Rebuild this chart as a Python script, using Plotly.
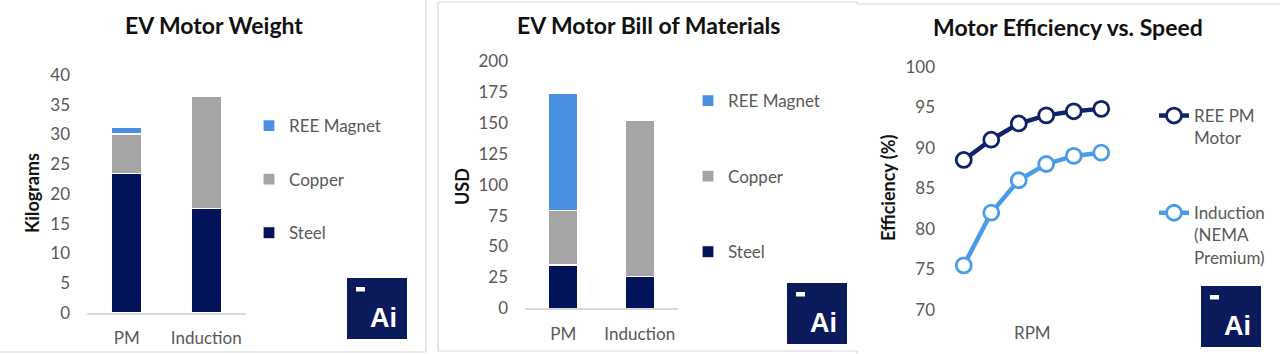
import plotly.graph_objects as go

W, H = 1280, 354

# ---------------- data ----------------
categories = ["PM", "Induction"]
weight_steel = [23.5, 17.5]
weight_copper = [6.6, 18.9]
weight_magnet = [1.1, 0]

bom_steel = [35, 26]
bom_copper = [44, 126]
bom_magnet = [95, 0]

speed_points = [1, 2, 3, 4, 5, 6]
eff_pm = [88.5, 91.0, 93.0, 94.0, 94.5, 94.8]
eff_induction = [75.5, 82.0, 86.0, 88.0, 89.0, 89.4]

weight_ticks = [0, 5, 10, 15, 20, 25, 30, 35, 40]
bom_ticks = [0, 25, 50, 75, 100, 125, 150, 175, 200]
eff_ticks = [70, 75, 80, 85, 90, 95, 100]

# ---------------- style ----------------
C_STEEL = "#02135A"
C_COPPER = "#A5A5A5"
C_MAGNET = "#4A90E2"
C_LINE_PM = "#10226A"
C_LINE_IND = "#4C9BE8"
C_LOGO = "#0B1A5B"
C_BORDER = "#D9D9D9"
FONT = "Lato"
TICK_C = "#595959"


def px(x):
    return x / W


def py(y):
    return 1 - y / H


fig = go.Figure()

# ---- panel 1: weight ----
for name, vals, col, rank in [("Steel", weight_steel, C_STEEL, 3),
                              ("Copper", weight_copper, C_COPPER, 2),
                              ("REE Magnet", weight_magnet, C_MAGNET, 1)]:
    fig.add_trace(go.Bar(x=categories, y=vals, name=name, marker_color=col,
                         marker_line=dict(color="white", width=1.2),
                         xaxis="x", yaxis="y", legend="legend",
                         legendgroup="w%d" % rank, legendrank=rank,
                         hoverinfo="y+name"))

# ---- panel 2: BOM ----
for name, vals, col, rank in [("Steel", bom_steel, C_STEEL, 3),
                              ("Copper", bom_copper, C_COPPER, 2),
                              ("REE Magnet", bom_magnet, C_MAGNET, 1)]:
    fig.add_trace(go.Bar(x=categories, y=vals, name=name, marker_color=col,
                         marker_line=dict(color="white", width=1.2),
                         xaxis="x2", yaxis="y2", legend="legend2",
                         legendgroup="b%d" % rank, legendrank=rank,
                         hoverinfo="y+name"))

# ---- panel 3: efficiency ----
fig.add_trace(go.Scatter(x=speed_points, y=eff_pm, name="REE PM<br>Motor",
                         mode="lines+markers",
                         line=dict(color=C_LINE_PM, width=4.5),
                         marker=dict(size=15, color="white",
                                     line=dict(color=C_LINE_PM, width=2.8)),
                         xaxis="x3", yaxis="y3", legend="legend3",
                         legendgroup="e1", legendrank=1))
fig.add_trace(go.Scatter(x=speed_points, y=eff_induction,
                         name="Induction<br>(NEMA<br>Premium)",
                         mode="lines+markers",
                         line=dict(color=C_LINE_IND, width=4.5),
                         marker=dict(size=15, color="white",
                                     line=dict(color=C_LINE_IND, width=2.8)),
                         xaxis="x3", yaxis="y3", legend="legend3",
                         legendgroup="e2", legendrank=2))

tickfont = dict(family=FONT, size=17, color=TICK_C)

common_x = dict(showgrid=False, zeroline=False, ticks="", automargin=False,
                tickfont=tickfont)
common_y = dict(showgrid=False, zeroline=False, showline=False, ticks="",
                automargin=False, tickfont=tickfont)

fig.update_layout(
    template="none",
    width=W, height=H, autosize=False,
    margin=dict(l=0, r=0, t=0, b=0, pad=0, autoexpand=False),
    paper_bgcolor="white", plot_bgcolor="white",
    barmode="stack", bargap=0.62,
    font=dict(family=FONT, color="#404040"),
    xaxis=dict(domain=[px(87), px(246)], anchor="y", type="category",
               showline=True, linecolor=C_BORDER, linewidth=1.5,
               ticklabelstandoff=9, **common_x),
    yaxis=dict(domain=[py(313), py(75)], anchor="x", range=[0, 40],
               tickvals=weight_ticks, ticklabelstandoff=16, **common_y),
    xaxis2=dict(domain=[px(525), px(678)], anchor="y2", type="category",
                showline=True, linecolor=C_BORDER, linewidth=1.5,
                ticklabelstandoff=10, **common_x),
    yaxis2=dict(domain=[py(308.3), py(61)], anchor="x2", range=[0, 200],
                tickvals=bom_ticks, ticklabelstandoff=16, **common_y),
    xaxis3=dict(domain=[px(950), px(1115)], anchor="y3",
                range=[0.5, 6.5], showticklabels=False, showline=False,
                **common_x),
    yaxis3=dict(domain=[py(310), py(66.7)], anchor="x3", range=[70, 100],
                tickvals=eff_ticks, ticklabelstandoff=14, **common_y),
    legend=dict(x=px(249), y=py(108), xanchor="left", yanchor="top",
                font=dict(family=FONT, size=17, color=TICK_C),
                traceorder="grouped", tracegroupgap=28.5,
                bgcolor="rgba(0,0,0,0)", borderwidth=0),
    legend2=dict(x=px(688), y=py(83), xanchor="left", yanchor="top",
                 font=dict(family=FONT, size=17, color=TICK_C),
                 traceorder="grouped", tracegroupgap=50.5,
                 bgcolor="rgba(0,0,0,0)", borderwidth=0),
    legend3=dict(x=px(1154), y=py(98), xanchor="left", yanchor="top",
                 font=dict(family=FONT, size=17, color=TICK_C),
                 traceorder="grouped", tracegroupgap=50, valign="top",
                 bgcolor="rgba(0,0,0,0)", borderwidth=0),
    showlegend=True,
)

annotations = []
# titles
for text, x, y in [("EV Motor Weight", 214, 25),
                   ("EV Motor Bill of Materials", 648, 25),
                   ("Motor Efficiency vs. Speed", 1068, 27)]:
    annotations.append(dict(text="<b>%s</b>" % text, x=px(x), y=py(y),
                            xref="paper", yref="paper", showarrow=False,
                            xanchor="center", yanchor="middle",
                            font=dict(family=FONT, size=23, color="#111111")))
# axis titles
for text, x, y in [("Kilograms", 32, 193), ("USD", 462, 187),
                   ("Efficiency (%)", 888, 188)]:
    annotations.append(dict(text="<b>%s</b>" % text, x=px(x), y=py(y),
                            xref="paper", yref="paper", showarrow=False,
                            textangle=-90, xanchor="center", yanchor="middle",
                            font=dict(family=FONT, size=18, color="#111111")))
annotations.append(dict(text="RPM", x=px(1032), y=py(332), xref="paper",
                        yref="paper", showarrow=False, xanchor="center",
                        yanchor="middle", font=tickfont))

shapes = []
# logos
for lx, ly in [(347, 278), (787, 283), (1201, 286)]:
    shapes.append(dict(type="rect", xref="paper", yref="paper",
                       x0=px(lx), x1=px(lx + 60), y0=py(ly + 61), y1=py(ly),
                       fillcolor=C_LOGO, line=dict(width=0)))
    shapes.append(dict(type="rect", xref="paper", yref="paper",
                       x0=px(lx + 9), x1=px(lx + 18), y0=py(ly + 13.5),
                       y1=py(ly + 9), fillcolor="white", line=dict(width=0)))
    annotations.append(dict(text="<b>Ai</b>", x=px(lx + 36), y=py(ly + 40),
                            xref="paper", yref="paper", showarrow=False,
                            xanchor="center", yanchor="middle",
                            font=dict(family="Liberation Sans", size=27,
                                      color="white")))

# panel borders
def line(x0, y0, x1, y1):
    shapes.append(dict(type="line", xref="paper", yref="paper",
                       x0=px(x0), y0=py(y0), x1=px(x1), y1=py(y1),
                       line=dict(color=C_BORDER, width=1.2)))

line(0, 352, 426, 352)
line(426, 0, 426, 352)
line(438, 2, 857, 2)
line(438, 2, 438, 351)
line(438, 351, 857, 351)
line(857, 351, 857, 354)
line(857, 4, 1280, 4)
line(857, 2, 857, 4)

fig.update_layout(annotations=annotations, shapes=shapes)

fig.write_html("out.html")
